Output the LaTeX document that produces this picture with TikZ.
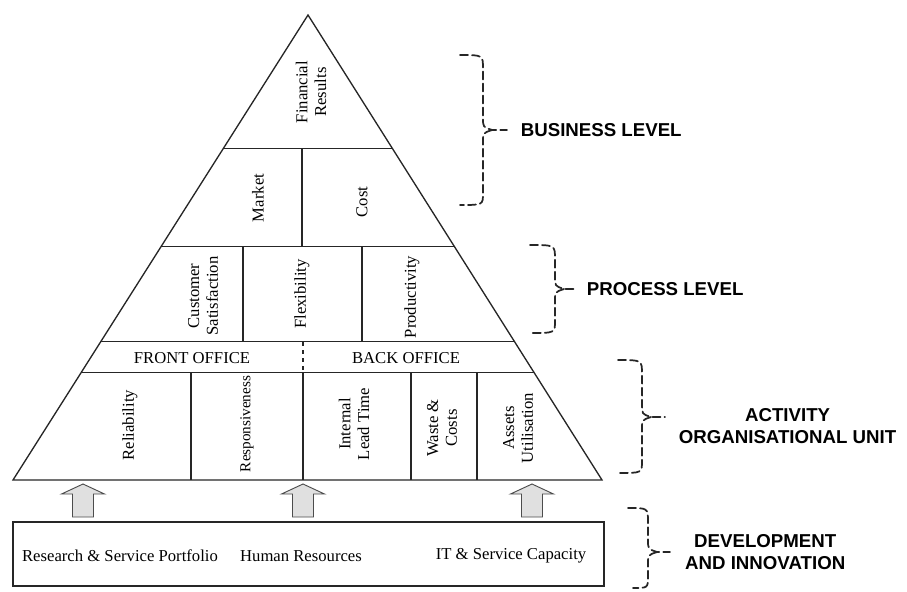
\documentclass[tikz,border=0pt]{standalone}
\usepackage{fontspec}
\setmainfont{Liberation Serif}
\newfontfamily\lvlfont{Liberation Sans}
\usetikzlibrary{calc,positioning}

\begin{document}
\begin{tikzpicture}[x=0.75pt,y=-0.75pt,line width=0.8pt,draw=black!85,
        cell/.style={rotate=90,align=center,inner sep=0pt,
            font=\fontsize{12.5}{14}\selectfont},
        band/.style={inner sep=0pt,font=\fontsize{12.5}{14}\selectfont},
        lvl/.style={align=center,inner sep=0pt,
            font=\lvlfont\bfseries\fontsize{14}{16.5}\selectfont},
        bracket/.style={dash pattern=on 6pt off 3pt,line width=1.3pt,line cap=round},
        uparrow/.style={draw=black!70,fill=black!12,line width=0.7pt}]
        \useasboundingbox (0,0) rectangle (907,592);
        %\draw[very thin,color=gray] (0,0) grid[step=50] (907,592);
        \coordinate (apex) at (308,15);
        \coordinate (bl) at (13,480);
        \coordinate (br) at (602,480);
        \draw[line width=1pt] (apex) -- (br) -- (bl) -- cycle;
        % the level bands
        \foreach \t in {0.288,0.497,0.703,0.768}
            \draw ($(apex)!\t!(bl)$) -- ($(apex)!\t!(br)$);
        \draw (302,149) -- (302,246);
        \draw (243,246) -- (243,342);
        \draw (362,246) -- (362,342);
        \draw[dashed] (303,342) -- (303,372);
        \foreach \vx in {191,303,411,477}
            \draw (\vx,372) -- (\vx,480);
        \node[cell] (fin) at (311,92) {Financial\\Results};
        \node[cell] (mkt) at (258,198) {Market};
        \node[cell] (cst) at (362,202) {Cost};
        \node[cell] (cus) at (203,296) {Customer\\Satisfaction};
        \node[cell] (flx) at (302,294) {Flexibility};
        \node[cell] (prd) at (412,297) {Productivity};
        \node[band] (front) at (192,358) {FRONT OFFICE};
        \node[band] (back) at (406,358) {BACK OFFICE};
        \node[cell] (rel) at (130,425) {Reliability};
        \node[cell,font=\fontsize{11.4}{14}\selectfont] (rsp) at (247,424) {Responsiveness};
        \node[cell] (ilt) at (354,424) {Internal\\Lead Time};
        \node[cell] (wst) at (442,428) {Waste \&\\Costs};
        \node[cell] (ast) at (518,428) {Assets\\Utilisation};
        % development box and arrows
        \node[draw,line width=1pt,minimum width=443.25pt,minimum height=48pt,inner sep=0pt]
            (devbox) at (308.5,554) {};
        \node[band] (port) at (120,556) {Research \& Service Portfolio};
        \node[band] (hres) at (301,556) {Human Resources};
        \node[band] (itcap) at (511,556) {IT \& Service Capacity};
        \foreach \ax in {83,303,532}
            \draw[uparrow] (\ax-10.5,517) -- (\ax-10.5,494) -- (\ax-21.5,494) -- (\ax,484)
                -- (\ax+21.5,494) -- (\ax+10.5,494) -- (\ax+10.5,517) -- cycle;
        % dashed braces
        \foreach \n/\xa/\xs/\xt/\ya/\ym/\yb/\xb in {biz/460/483/507/55/130/205/460,
                proc/530/555/577/245/289/333/530,act/618/642/665/360/417/473/618,
                dev/628/648/670/508/552/588/633}{
            \draw[bracket] (\xa,\ya) .. controls (\xs,\ya) .. (\xs,\ya+14) -- (\xs,\ym-12)
                .. controls (\xs,\ym-3) .. (\xs+9,\ym) -- (\xt,\ym);
            \draw[bracket] (\xs+9,\ym) .. controls (\xs,\ym+3) .. (\xs,\ym+12) -- (\xs,\yb-12)
                .. controls (\xs,\yb) .. (\xb,\yb);
            \coordinate (\n) at (\xt,\ym);
        }
        \node[lvl,right=10pt of biz] (bizlbl) {BUSINESS LEVEL};
        \node[lvl,right=7pt of proc] (proclbl) {PROCESS LEVEL};
        \node[lvl,right=10pt of act,yshift=-7pt] (actlbl) {ACTIVITY\\ORGANISATIONAL UNIT};
        \node[lvl,right=11pt of dev] (devlbl) {DEVELOPMENT\\AND INNOVATION};
    \end{tikzpicture}
\end{document}
